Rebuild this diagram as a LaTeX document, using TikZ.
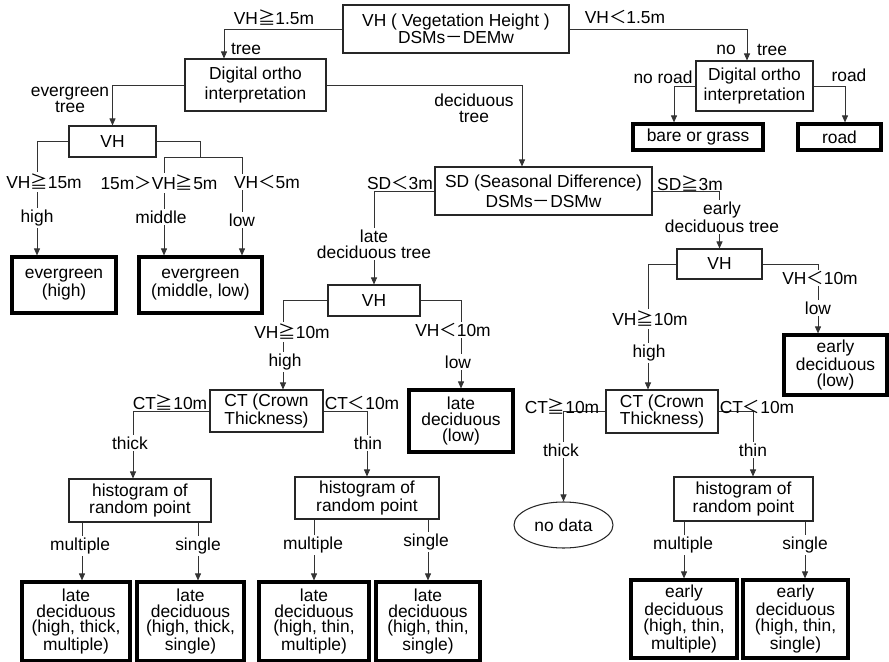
\documentclass[tikz,border=0pt]{standalone}
\usepackage{fontspec}
\setmainfont{Liberation Sans}
\newfontfamily\cjk{Noto Sans CJK JP}
\usetikzlibrary{arrows.meta,shapes.geometric}
\newcommand{\px}{0.02cm}
\newcommand{\jgeq}{{\cjk ≧}}
\newcommand{\jlt}{{\cjk ＜}}
\newcommand{\jgt}{{\cjk ＞}}
\newcommand{\jbar}{{\cjk －}}

\begin{document}
\begin{tikzpicture}[x=0.02cm, y=-0.02cm,
    sz/.style 2 args={minimum width=#1*\px, minimum height=#2*\px},
    testbox/.style={rectangle, draw=black!85, line width=0.6pt, fill=white,
        align=center, inner sep=0pt, font=\fontsize{9.9}{8.9}\selectfont},
    endbox/.style={testbox, draw=black, line width=1.8pt},
    lbl/.style={align=center, inner sep=1pt, font=\fontsize{9.9}{8.9}\selectfont},
    cut/.style={lbl, fill=white},
    arr/.style={-{Triangle[length=1.4mm, width=1.2mm]}, line width=0.5pt, black!80},
    ln/.style={line width=0.5pt, black!80}
]
    \useasboundingbox (0,0) rectangle (889,662);

    % decision boxes
    \node[testbox, sz={226}{48}, font=\fontsize{9.9}{10}\selectfont] (vh) at (456,29)
        {VH ( Vegetation Height )\\DSMs\jbar DEMw};
    \node[testbox, sz={141}{52}, font=\fontsize{9.9}{11.5}\selectfont] (orthoL) at (255.5,85)
        {Digital ortho\\interpretation};
    \node[testbox, sz={117}{50}, font=\fontsize{9.9}{11.5}\selectfont] (orthoR) at (754.5,86)
        {Digital ortho\\interpretation};
    \node[testbox, sz={87}{31}] (vhE) at (112.5,141.5) {VH};
    \node[testbox, sz={217}{48}, font=\fontsize{9.9}{11.5}\selectfont] (sd) at (543.5,191)
        {SD (Seasonal Difference)\\DSMs\jbar DSMw};
    \node[testbox, sz={92}{31}] (vhL) at (374,300.5) {VH};
    \node[testbox, sz={85}{30}] (vhR) at (719.5,264) {VH};
    \node[testbox, sz={113}{42}] (ctL) at (266.5,411) {CT (Crown\\Thickness)};
    \node[testbox, sz={112}{43}] (ctR) at (662,411.5) {CT (Crown\\Thickness)};
    \node[testbox, sz={142}{43}] (hist1) at (140,500.5) {histogram of\\random point};
    \node[testbox, sz={144}{42}] (hist2) at (367,498) {histogram of\\random point};
    \node[testbox, sz={139}{44}] (hist3) at (743.5,499) {histogram of\\random point};

    % classes
    \node[endbox, sz={130}{26}] (bare) at (698,137) {bare or grass};
    \node[endbox, sz={83}{26}] (road) at (839.5,137) {road};
    \node[endbox, sz={104}{56}] (egHigh) at (64,285) {evergreen\\(high)};
    \node[endbox, sz={123}{56}] (egMid) at (200.5,285) {evergreen\\(middle, low)};
    \node[endbox, sz={104}{62}] (ldLow) at (461,421) {late\\deciduous\\(low)};
    \node[endbox, sz={103}{60}] (edLow) at (835.5,365) {early\\deciduous\\(low)};
    \node[endbox, sz={108}{79}] (b1) at (76,621.5) {late\\deciduous\\(high, thick,\\multiple)};
    \node[endbox, sz={107}{79}] (b2) at (190.5,621.5) {late\\deciduous\\(high, thick,\\single)};
    \node[endbox, sz={110}{79}] (b3) at (314,621.5) {late\\deciduous\\(high, thin,\\multiple)};
    \node[endbox, sz={104}{79}] (b4) at (428,621.5) {late\\deciduous\\(high, thin,\\single)};
    \node[endbox, sz={106}{78}] (b5) at (684,619) {early\\deciduous\\(high, thin,\\multiple)};
    \node[endbox, sz={105}{78}] (b6) at (795.5,619) {early\\deciduous\\(high, thin,\\single)};
    \node[ellipse, draw=black!85, line width=0.6pt, sz={99}{46}, inner sep=0pt,
        font=\fontsize{9.9}{8.9}\selectfont] (nodata) at (563.5,525) {no data};

    % branch columns
    \coordinate (kTreeL) at (224,0);
    \coordinate (kTreeR) at (747,0);
    \coordinate (kNoRoad) at (674,0);
    \coordinate (kRoad) at (845,0);
    \coordinate (kDecid) at (522,0);
    \coordinate (kEgHigh) at (37,0);
    \coordinate (kEgSplit) at (200,0);
    \coordinate (kEgMid) at (164,0);
    \coordinate (kEgLow) at (242,0);
    \coordinate (kLHigh) at (283,0);
    \coordinate (kLThick) at (133,0);
    \coordinate (kM1) at (82,0);
    \coordinate (kS1) at (198,0);
    \coordinate (kEHigh) at (648,0);
    \coordinate (kELow) at (818,0);
    \coordinate (kEThin) at (753,0);
    \coordinate (kS3) at (805,0);

    \draw[arr] (vh.west) -| (orthoL.north -| kTreeL);
    \draw[arr] (vh.east) -| (orthoR.north -| kTreeR);
    \draw[arr] (orthoR.west) -| (bare.north -| kNoRoad);
    \draw[arr] (orthoR.east) -| (road.north -| kRoad);
    \draw[arr] (orthoL.west) -| (vhE.north);
    \draw[arr] (orthoL.east) -| (sd.north -| kDecid);

    \draw[arr] (vhE.west) -| (egHigh.north -| kEgHigh);
    \draw[ln] (vhE.east) -| (vhE.south -| kEgSplit);
    \draw[arr] (vhE.south -| kEgSplit) -| (egMid.north -| kEgMid);
    \draw[arr] (vhE.south -| kEgSplit) -| (egMid.north -| kEgLow);

    \draw[arr] (sd.west) -| (vhL.north);
    \draw[arr] (sd.east) -| (vhR.north);
    \draw[arr] (vhL.west) -| (ctL.north -| kLHigh);
    \draw[arr] (vhL.east) -| (ldLow.north);
    \draw[arr] (ctL.west) -| (hist1.north -| kLThick);
    \draw[arr] (ctL.east) -| (hist2.north);
    \draw[arr] (hist1.south -| kM1) -- (b1.north -| kM1);
    \draw[arr] (hist1.south -| kS1) -- (b2.north -| kS1);
    \draw[arr] (b3.north |- hist2.south) -- (b3.north);
    \draw[arr] (b4.north |- hist2.south) -- (b4.north);

    \draw[arr] (vhR.west) -| (ctR.north -| kEHigh);
    \draw[arr] (vhR.east) -| (edLow.north -| kELow);
    \draw[arr] (ctR.west) -| (nodata.north);
    \draw[arr] (ctR.east) -| (hist3.north -| kEThin);
    \draw[arr] (b5.north |- hist3.south) -- (b5.north);
    \draw[arr] (hist3.south -| kS3) -- (b6.north -| kS3);

    % branch labels
    \node[lbl] (lGe15) at (274,18) {VH\jgeq 1.5m};
    \node[lbl] (lLt15) at (625,17) {VH\jlt 1.5m};
    \node[lbl] (lTree) at (246,49) {tree};
    \node[lbl] (lNo) at (726,50) {no};
    \node[lbl] (lTreeR) at (772,50) {tree};
    \node[lbl] (lNoRoad) at (663,77) {no road};
    \node[lbl] (lRoad) at (849,75) {road};
    \node[lbl] (lEver) at (70,100) {evergreen\\tree};
    \node[lbl] (lDecid) at (474,108) {deciduous\\tree};

    \node[cut] (lVH15) at (44,182) {VH\jgeq 15m};
    \node[cut] (lHigh) at (37,218) {high};
    \node[cut] (lMidRange) at (159,183) {15m\jgt VH\jgeq 5m};
    \node[cut] (lMiddle) at (161,217) {middle};
    \node[cut] (lVH5) at (267,182) {VH\jlt 5m};
    \node[cut] (lLow) at (242,220) {low};

    \node[lbl] (lSDlt) at (400,183) {SD\jlt 3m};
    \node[lbl] (lSDge) at (690,184) {SD\jgeq 3m};
    \node[cut] (lLate) at (374,244) {late\\deciduous tree};
    \node[cut] (lEarly) at (722,217) {early\\deciduous tree};

    \node[cut] (lLVHge) at (292,332) {VH\jgeq 10m};
    \node[cut] (lLHigh) at (285,362) {high};
    \node[cut] (lLVHlt) at (453,330) {VH\jlt 10m};
    \node[cut] (lLLow) at (458,362) {low};
    \node[lbl] (lLCTge) at (170,403) {CT\jgeq 10m};
    \node[lbl] (lLCTlt) at (362,403) {CT\jlt 10m};
    \node[cut] (lLThick) at (130,443) {thick};
    \node[cut] (lLThin) at (368,443) {thin};
    \node[cut] (lM1) at (80,546) {multiple};
    \node[cut] (lS1) at (198,546) {single};
    \node[cut] (lM2) at (313,545) {multiple};
    \node[cut] (lS2) at (426,542) {single};

    \node[cut] (lEVHge) at (650,319) {VH\jgeq 10m};
    \node[cut] (lEHigh) at (649,353) {high};
    \node[cut] (lEVHlt) at (820,278) {VH\jlt 10m};
    \node[cut] (lELow) at (818,308) {low};
    \node[lbl] (lECTge) at (562,407) {CT\jgeq 10m};
    \node[lbl] (lECTlt) at (757,407) {CT\jlt 10m};
    \node[cut] (lEThick) at (561,450) {thick};
    \node[cut] (lEThin) at (753,450) {thin};
    \node[cut] (lM3) at (683,545) {multiple};
    \node[cut] (lS3) at (805,545) {single};
\end{tikzpicture}
\end{document}
